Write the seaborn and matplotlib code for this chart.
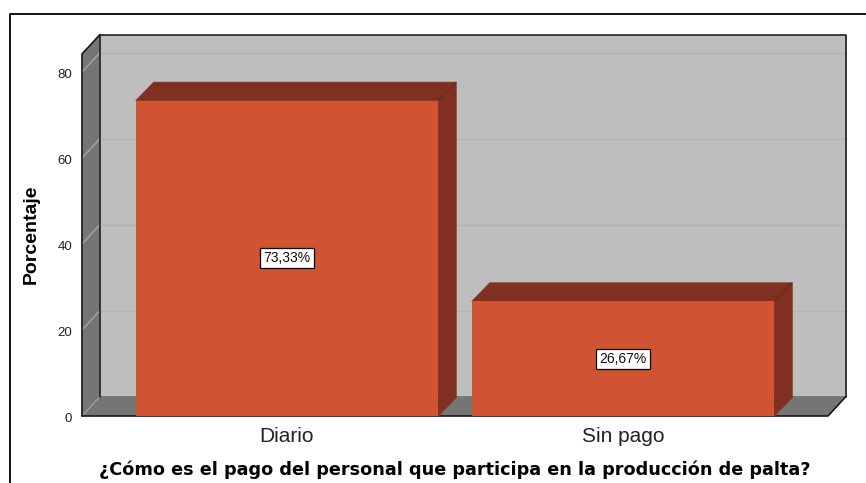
import matplotlib
matplotlib.use("Agg")
import matplotlib.pyplot as plt
import seaborn as sns
from matplotlib.lines import Line2D
from matplotlib.patches import Polygon
from matplotlib.transforms import ScaledTranslation

categorias = ['Diario', 'Sin pago']
porcentajes = [73.33, 26.67]
etiquetas = ['73,33%', '26,67%']
y_ticks = [0, 20, 40, 60, 80]
eje_x = '¿Cómo es el pago del personal que participa en la producción de palta?'
eje_y = 'Porcentaje'

ANCHO, ALTO = 866, 483
NARANJA = '#D05431'
NARANJA_OSC = '#803020'
GRIS_FONDO = '#BEBEBE'
GRIS_PARED = '#757575'
GRIS_LINEA = '#B3B3B3'


def poligono(ax, puntos, color, z, borde=None):
    ax.add_patch(Polygon(puntos, closed=True, facecolor=color, edgecolor=borde or color,
                         linewidth=0.6, zorder=z, clip_on=False))


def linea(ax, xs, ys, color='#111111', lw=1.0, z=3):
    ax.add_line(Line2D(xs, ys, color=color, linewidth=lw, zorder=z, clip_on=False))


def main():
    sns.set_theme(style='white')
    plt.rcParams['font.family'] = ['Liberation Sans', 'DejaVu Sans']

    fig = plt.figure(figsize=(ANCHO / 100, ALTO / 100), dpi=100)
    ax = fig.add_axes([82 / ANCHO, (ALTO - 416) / ALTO, 746 / ANCHO, 362 / ALTO])
    ax.patch.set_alpha(0)

    sns.barplot(x=categorias, y=porcentajes, color=NARANJA, saturation=1, width=0.9, ax=ax, zorder=6,
                linewidth=0)
    ax.set_xlim(-0.61, 1.61)
    ax.set_ylim(0, 84.2)

    # profundidad falsa del grafico 3D, en unidades de datos
    dx = 18 / 336
    dy = 19.5 / 4.3
    dy_barra = 18.5 / 4.3
    x0, x1 = ax.get_xlim()
    y0, y1 = ax.get_ylim()

    poligono(ax, [(x0 + dx, y0 + dy), (x1 + dx, y0 + dy), (x1 + dx, y1 + dy), (x0 + dx, y1 + dy)], GRIS_FONDO, 1)
    poligono(ax, [(x0, y0), (x0 + dx, y0 + dy), (x0 + dx, y1 + dy), (x0, y1)], GRIS_PARED, 2)
    poligono(ax, [(x0, y0), (x1, y0), (x1 + dx, y0 + dy), (x0 + dx, y0 + dy)], GRIS_PARED, 2)

    for t in y_ticks[1:]:
        linea(ax, [x0 + dx, x1 + dx], [t + dy, t + dy], GRIS_LINEA, 1.0, 2.5)
        linea(ax, [x0, x0 + dx], [t, t + dy], '#A5A5A5', 1.0, 2.5)
    linea(ax, [x0, x0 + dx], [y0, y0 + dy], '#A5A5A5', 0.8, 2.5)

    # bordes
    linea(ax, [x0 + dx, x1 + dx, x1 + dx], [y1 + dy, y1 + dy, y0 + dy], lw=1.1)
    linea(ax, [x0 + dx, x0 + dx], [y0 + dy, y1 + dy], '#222222', 1.2)
    linea(ax, [x0, x0, x0 + dx], [y0, y1, y1 + dy], lw=1.1)
    linea(ax, [x0, x1, x1 + dx], [y0, y0, y0 + dy], lw=1.1)

    for barra, texto in zip(ax.patches[:len(porcentajes)], etiquetas):
        izq, der = barra.get_x(), barra.get_x() + barra.get_width()
        alto = barra.get_height()
        poligono(ax, [(izq, alto), (der, alto), (der + dx, alto + dy_barra), (izq + dx, alto + dy_barra)], NARANJA_OSC, 5)
        poligono(ax, [(der, 0), (der + dx, dy_barra), (der + dx, alto + dy_barra), (der, alto)], NARANJA_OSC, 5)
        linea(ax, [der, der + dx], [alto, alto + dy_barra], '#6A2818', 0.6, 5.5)
        ax.text((izq + der) / 2, alto / 2, texto, ha='center', va='center', fontsize=10, color='#111111', zorder=8,
                bbox=dict(boxstyle='square,pad=0.22', facecolor='white', edgecolor='black', linewidth=0.9))

    sns.despine(ax=ax, left=True, bottom=True, top=True, right=True)
    ax.set_yticks(y_ticks)
    ax.tick_params(axis='y', length=0, pad=7, labelsize=9.5, labelcolor='#222222')
    ax.tick_params(axis='x', length=0, pad=8, labelsize=15, labelcolor='#222222')
    bajar = ScaledTranslation(0, -2 / 72, fig.dpi_scale_trans)
    for lab in ax.get_yticklabels():
        lab.set_verticalalignment('center')
        lab.set_transform(lab.get_transform() + bajar)

    ax.set_xlabel(eje_x, fontsize=12.7, fontweight='bold', color='black', family='DejaVu Sans')
    ax.set_ylabel(eje_y, fontsize=14, fontweight='bold', color='black')
    ax.yaxis.set_label_coords((31 - 82) / 746, (416 - 234) / 362)
    ax.xaxis.set_label_coords((455 - 82) / 746, (416 - 470) / 362)
    ax.xaxis.label.set_verticalalignment('center')
    ax.yaxis.label.set_verticalalignment('center')

    # marco exterior, solo arriba e izquierda
    fig.add_artist(Line2D([10 / ANCHO, 10 / ANCHO, 1], [0, 1 - 14 / ALTO, 1 - 14 / ALTO], color='#111111', linewidth=1.4))

    fig.savefig('out.png', dpi=100)


if __name__ == '__main__':
    main()
